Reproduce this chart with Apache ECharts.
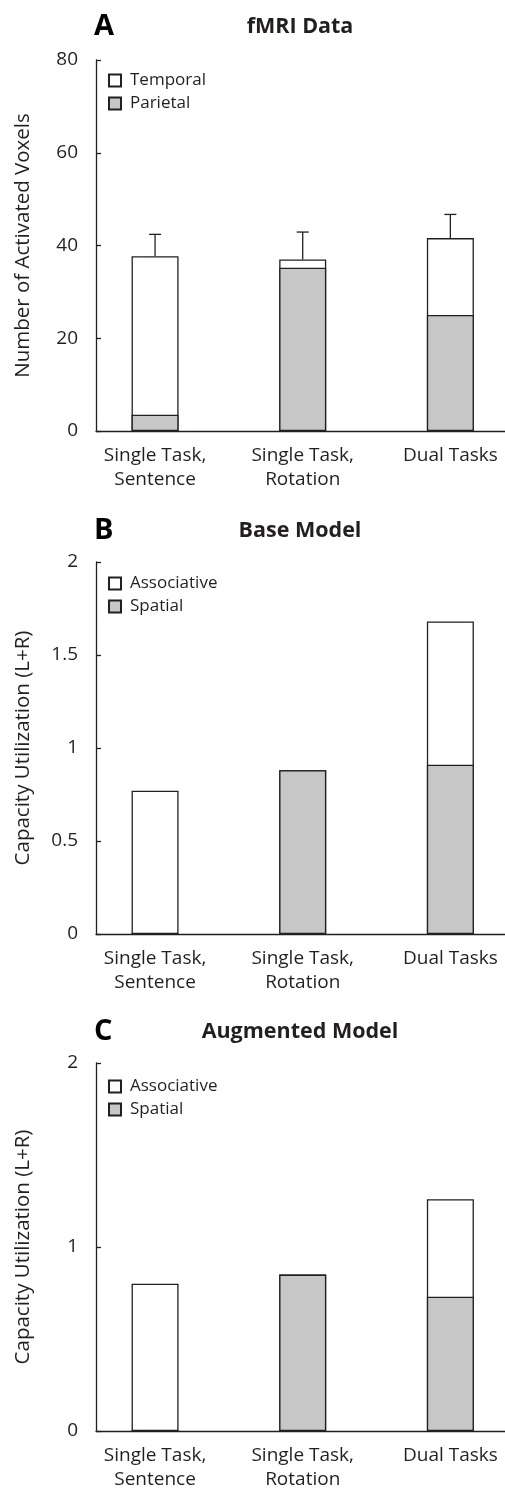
<!DOCTYPE html>
<html>
<head>
<meta charset="utf-8">
<script src="https://cdn.jsdelivr.net/npm/echarts@6/dist/echarts.min.js"></script>
<style>
  html, body { margin: 0; padding: 0; background: #fff; }
  #chart { width: 505px; height: 1492px; }
</style>
</head>
<body>
<div id="chart"></div>
<script>
// categories on the x axis (bar positions 0, 1, 2)
const categories = ["Single Task,\nSentence", "Single Task,\nRotation", "Dual Tasks"];

// A: fMRI data (bar total = temporal + parietal)
const fmriTotal = [37.7, 37.0, 41.6];
const fmriParietal = [3.5, 35.2, 25.0];
const fmriErrorTop = [42.4, 42.9, 46.7];

// B: base model
const baseTotal = [0.77, 0.88, 1.68];
const baseSpatial = [0, 0.88, 0.91];

// C: augmented model
const augTotal = [0.80, 0.85, 1.26];
const augSpatial = [0, 0.85, 0.73];

const FONT = "Open Sans";
const INK = "#231f20";
const GRAY = "#c6c7c6";

const chart = echarts.init(document.getElementById("chart"));

function pts(arr) {
  return arr.map((v, i) => [i, v]);
}

function xAxisFor(idx) {
  return {
    type: "value",
    gridIndex: idx,
    min: -0.4,
    max: 2.37,
    splitLine: { show: false },
    axisTick: { show: false },
    axisLine: { lineStyle: { color: INK, width: 1.3 } },
    axisLabel: {
      customValues: [0, 1, 2],
      formatter: (v) => categories[Math.round(v)],
      color: INK,
      fontFamily: FONT,
      fontSize: 19,
      lineHeight: 24,
      margin: 13,
      verticalAlign: "top"
    }
  };
}

function yAxisFor(idx, max, interval, name) {
  return {
    type: "value",
    gridIndex: idx,
    min: 0,
    max: max,
    interval: interval,
    name: name,
    nameLocation: "middle",
    nameGap: 62,
    nameTextStyle: { color: INK, fontFamily: FONT, fontSize: 20.5 },
    splitLine: { show: false },
    axisLine: { show: true, onZero: false, lineStyle: { color: INK, width: 1.3 } },
    axisTick: { show: true, inside: true, length: 5, lineStyle: { color: INK, width: 1.3 } },
    axisLabel: { color: INK, fontFamily: FONT, fontSize: 19, margin: 18 }
  };
}

function barPair(idx, topName, totals, bottomName, bottoms) {
  return [
    {
      name: topName,
      type: "bar",
      xAxisIndex: idx,
      yAxisIndex: idx,
      barWidth: 47,
      barGap: "-100%",
      itemStyle: { color: "#ffffff", borderColor: INK, borderWidth: 1.3 },
      data: pts(totals)
    },
    {
      name: bottomName,
      type: "bar",
      xAxisIndex: idx,
      yAxisIndex: idx,
      barWidth: 47,
      barGap: "-100%",
      itemStyle: { color: GRAY, borderColor: INK, borderWidth: 1.3 },
      data: pts(bottoms)
    }
  ];
}

function legendFor(top, names) {
  return {
    orient: "vertical",
    left: 108,
    top: top,
    padding: 0,
    itemWidth: 12,
    itemHeight: 12,
    itemGap: 6,
    icon: "rect",
    data: names,
    textStyle: { color: INK, fontFamily: FONT, fontSize: 17, lineHeight: 17, padding: [0, 0, 0, 4] }
  };
}

function panelTitles(letter, text, y) {
  return [
    { text: letter, left: 94, top: y - 16, padding: 0,
      textStyle: { color: "#000", fontFamily: FONT, fontSize: 29, fontWeight: "bold" } },
    { text: text, left: 300, top: y - 12, padding: 0, textAlign: "center",
      textStyle: { color: INK, fontFamily: FONT, fontSize: 21.5, fontWeight: "bold" } }
  ];
}

const option = {
  backgroundColor: "#ffffff",
  animation: false,
  title: [].concat(
    panelTitles("A", "fMRI Data", 28),
    panelTitles("B", "Base Model", 532),
    panelTitles("C", "Augmented Model", 1033)
  ),
  legend: [
    legendFor(72, ["Temporal", "Parietal"]),
    legendFor(575, ["Associative", "Spatial"]),
    legendFor(1078, ["Associative", "Spatial"])
  ],
  grid: [
    { left: 96, right: 0, top: 60, height: 371 },
    { left: 96, right: 0, top: 562, height: 372 },
    { left: 96, right: 0, top: 1063, height: 373 }
  ],
  xAxis: [xAxisFor(0), xAxisFor(1), xAxisFor(2)],
  yAxis: [
    yAxisFor(0, 80, 20, "Number of Activated Voxels"),
    yAxisFor(1, 2, 0.5, "Capacity Utilization (L+R)"),
    yAxisFor(2, 2, 1, "Capacity Utilization (L+R)")
  ],
  series: [].concat(
    barPair(0, "Temporal", fmriTotal, "Parietal", fmriParietal),
    [{
      type: "custom",
      xAxisIndex: 0,
      yAxisIndex: 0,
      z: 1,
      data: fmriTotal.map((v, i) => [i, v, fmriErrorTop[i]]),
      renderItem: function (params, api) {
        const base = api.coord([api.value(0), api.value(1)]);
        const tip = api.coord([api.value(0), api.value(2)]);
        const style = { stroke: INK, lineWidth: 1.3 };
        return {
          type: "group",
          children: [
            { type: "line", shape: { x1: base[0], y1: base[1], x2: tip[0], y2: tip[1] }, style: style },
            { type: "line", shape: { x1: tip[0] - 6, y1: tip[1], x2: tip[0] + 6, y2: tip[1] }, style: style }
          ]
        };
      }
    }],
    barPair(1, "Associative", baseTotal, "Spatial", baseSpatial),
    barPair(2, "Associative", augTotal, "Spatial", augSpatial)
  )
};

chart.setOption(option);
</script>
</body>
</html>
